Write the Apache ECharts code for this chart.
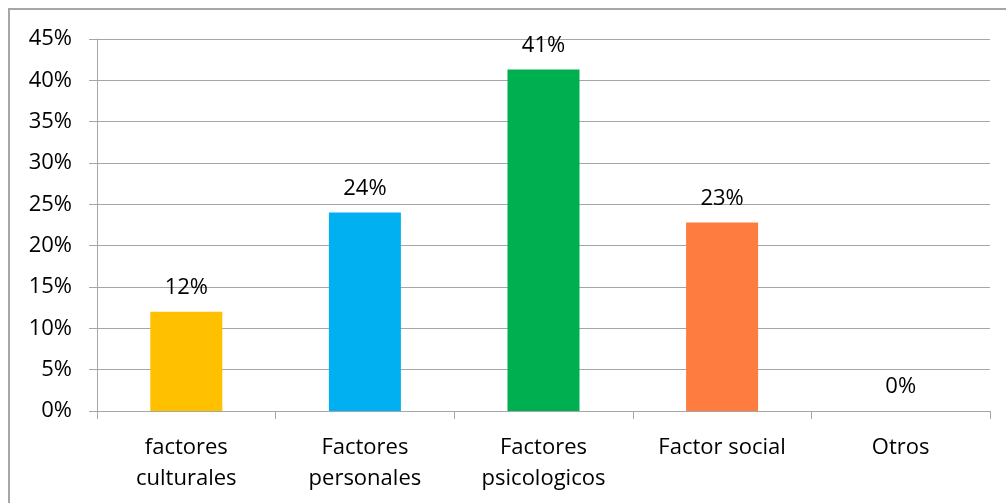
<!DOCTYPE html>
<html>
<head>
<meta charset="utf-8">
<script src="https://cdn.jsdelivr.net/npm/echarts@6/dist/echarts.min.js"></script>
<style>
  html, body { margin: 0; padding: 0; background: #fff; }
  #frame {
    position: absolute; left: 8px; top: 8px; width: 1010px; height: 510px;
    border-left: 2px solid #a6a6a6; border-top: 2px solid #a6a6a6;
  }
  #chart { position: absolute; left: 0; top: 0; width: 1006px; height: 503px; }
</style>
</head>
<body>
<div id="frame"></div>
<div id="chart"></div>
<script>
const categories = ["factores\nculturales", "Factores\npersonales", "Factores\npsicologicos", "Factor social", "Otros"];
const values = [0.12, 0.24, 0.413, 0.228, 0];
const colors = ["#FFC000", "#00B0F0", "#00B050", "#FF7C40", "#A5A5A5"];

const font = "'Open Sans', sans-serif";
let chart = echarts.init(document.getElementById("chart"));
chart.setOption({
  animation: false,
  grid: { left: 97, right: 16, top: 39, bottom: 92 },
  xAxis: {
    type: "category",
    data: categories,
    axisLine: { lineStyle: { color: "#a6a6a6", width: 1 } },
    axisTick: { show: true, length: 8, lineStyle: { color: "#a6a6a6" } },
    axisLabel: { color: "#000", fontSize: 22, fontFamily: font, margin: 21, lineHeight: 31, interval: 0 }
  },
  yAxis: {
    type: "value",
    min: 0,
    max: 0.45,
    interval: 0.05,
    axisLine: { show: true, lineStyle: { color: "#a6a6a6", width: 1 } },
    axisTick: { show: true, length: 8, lineStyle: { color: "#a6a6a6" } },
    splitLine: { lineStyle: { color: "#a6a6a6", width: 1 } },
    axisLabel: {
      color: "#000", fontSize: 22, fontFamily: font, margin: 25,
      formatter: v => Math.round(v * 100) + "%"
    }
  },
  series: [{
    type: "bar",
    barWidth: 72,
    data: values.map((v, i) => ({ value: v, itemStyle: { color: colors[i] } })),
    label: {
      show: true,
      position: "top",
      distance: 13,
      color: "#000",
      fontSize: 22,
      fontFamily: font,
      formatter: p => Math.round(p.value * 100) + "%"
    }
  }]
});
</script>
</body>
</html>
